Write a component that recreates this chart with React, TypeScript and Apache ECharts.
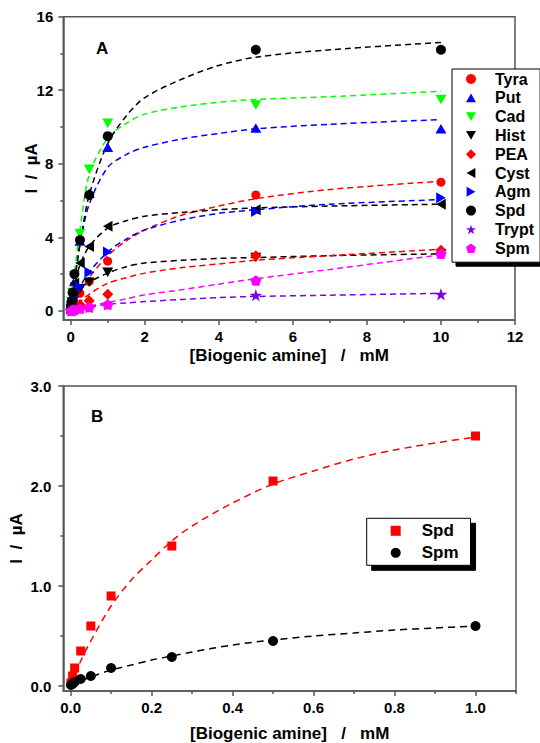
import { useEffect, useRef } from "react";
import * as echarts from "echarts";

const FONT = "'Liberation Sans', Arial, sans-serif";

// ---------- Panel A data ----------
const concA = [0.01, 0.025, 0.05, 0.1, 0.25, 0.5, 1, 5, 10];
const tyraA = [0.05, 0.12, 0.25, 0.45, 0.95, 1.6, 2.7, 6.3, 7.0];
const putA = [0.15, 0.4, 0.8, 1.6, 3.8, 6.4, 8.9, 9.95, 9.9];
const cadA = [0.2, 0.5, 1.0, 1.9, 4.2, 7.7, 10.2, 11.2, 11.5];
const histA = [0.1, 0.25, 0.45, 0.75, 1.2, 1.55, 2.1, 2.9, 3.1];
const peaA = [0.03, 0.08, 0.12, 0.2, 0.35, 0.55, 0.9, 3.0, 3.3];
const cystA = [0.2, 0.5, 0.9, 1.5, 2.6, 3.5, 4.6, 5.5, 5.8];
const agmA = [0.1, 0.25, 0.45, 0.75, 1.3, 2.1, 3.2, 5.4, 6.15];
const spdA = [0.2, 0.5, 1.0, 2.0, 3.85, 6.3, 9.5, 14.2, 14.2];
const tryptA = [0.01, 0.03, 0.05, 0.1, 0.15, 0.2, 0.35, 0.85, 0.9];
const spmA = [0.0, 0.02, 0.04, 0.06, 0.12, 0.2, 0.35, 1.65, 3.1];

// fitted curves
const fitXA = [0, 0.1, 0.25, 0.5, 1, 1.5, 2, 3, 4, 5, 7, 10];
const tyraFit = [0, 0.45, 1.0, 1.8, 3.0, 3.8, 4.4, 5.2, 5.7, 6.1, 6.6, 7.05];
const putFit = [0, 1.6, 3.6, 5.8, 7.8, 8.5, 8.9, 9.35, 9.65, 9.9, 10.15, 10.4];
const cadFit = [0, 2.0, 4.4, 7.4, 9.4, 10.2, 10.7, 11.1, 11.35, 11.5, 11.65, 11.95];
const histFit = [0, 0.6, 1.1, 1.55, 2.05, 2.4, 2.6, 2.75, 2.85, 2.9, 3.0, 3.1];
const peaFit = [0, 0.2, 0.5, 0.9, 1.5, 1.8, 2.05, 2.35, 2.55, 2.75, 3.0, 3.35];
const cystFit = [0, 1.3, 2.5, 3.5, 4.5, 4.9, 5.15, 5.35, 5.5, 5.6, 5.7, 5.8];
const agmFit = [0, 0.6, 1.3, 2.1, 3.2, 3.9, 4.4, 4.95, 5.3, 5.5, 5.8, 6.05];
const spdFit = [0, 1.5, 3.6, 6.3, 9.1, 10.6, 11.6, 12.6, 13.35, 13.8, 14.2, 14.6];
const tryptFit = [0, 0.05, 0.1, 0.2, 0.35, 0.43, 0.5, 0.62, 0.72, 0.78, 0.85, 0.95];
const spmFit = [0, 0.05, 0.12, 0.25, 0.45, 0.65, 0.87, 1.15, 1.45, 1.75, 2.25, 3.05];

const xTicksA = [0, 2, 4, 6, 8, 10, 12];
const xMinorA = [1, 3, 5, 7, 9, 11];
const yTicksA = [0, 4, 8, 12, 16];
const yMinorA = [2, 6, 10, 14];

// ---------- Panel B data ----------
const concB = [0.001, 0.005, 0.01, 0.025, 0.05, 0.1, 0.25, 0.5, 1.0];
const spdB = [0.03, 0.1, 0.18, 0.35, 0.6, 0.9, 1.4, 2.05, 2.5];
const spmB = [0.01, 0.02, 0.04, 0.07, 0.1, 0.18, 0.29, 0.45, 0.6];
const fitXB = [0, 0.025, 0.05, 0.1, 0.15, 0.2, 0.25, 0.3, 0.4, 0.5, 0.6, 0.7, 0.8, 0.9, 1.0];
const spdFitB = [0, 0.25, 0.45, 0.8, 1.06, 1.26, 1.45, 1.6, 1.83, 2.02, 2.15, 2.27, 2.36, 2.43, 2.49];
const spmFitB = [0, 0.05, 0.09, 0.16, 0.21, 0.26, 0.3, 0.34, 0.41, 0.46, 0.5, 0.53, 0.56, 0.58, 0.6];

const xTicksB = [0, 0.2, 0.4, 0.6, 0.8, 1.0];
const xMinorB = [0.1, 0.3, 0.5, 0.7, 0.9, 1.1];
const yTicksB = [0, 1, 2, 3];
const yMinorB = [0.5, 1.5, 2.5];

const STAR = "path://M50,0 L61,35 L98,35 L68,57 L79,91 L50,70 L21,91 L32,57 L2,35 L39,35 Z";
const PENTA = "path://M50,0 L97.6,34.5 L79.4,90.5 L20.6,90.5 L2.4,34.5 Z";
const TRI_UP = "path://M50,0 L100,87 L0,87 Z";
const TRI_DOWN = "path://M0,0 L100,0 L50,87 Z";
const TRI_LEFT = "path://M87,0 L87,100 L0,50 Z";
const TRI_RIGHT = "path://M0,0 L87,50 L0,100 Z";

const AXIS_COLOR = "#555";
const SP = "\u00a0";
const X_NAME = `[Biogenic amine]${SP}${SP}${SP}/${SP}${SP}${SP}mM`;
const Y_NAME = `I${SP}${SP}/${SP}${SP}µA`;

const zip = (xs: number[], ys: number[]) => xs.map((x, i) => [x, ys[i]]);

function mainAxis(
  dim: "x" | "y",
  gridIndex: number,
  min: number,
  max: number,
  ticks: number[],
  fmt: (v: number) => string,
  name: string,
  nameGap: number,
  labelMargin: number
) {
  return {
    type: "value",
    gridIndex,
    position: dim === "x" ? "bottom" : "left",
    min,
    max,
    name,
    nameLocation: "middle",
    nameGap,
    nameMoveOverlap: false,
    nameTextStyle: { fontFamily: FONT, fontWeight: "bold", fontSize: 17, color: "#000" },
    axisLine: { show: true, onZero: false, lineStyle: { color: AXIS_COLOR, width: 1.5 } },
    axisTick: { show: true, inside: false, length: 5, customValues: ticks, lineStyle: { color: AXIS_COLOR, width: 1.5 } },
    axisLabel: {
      show: true,
      customValues: ticks,
      formatter: (v: number) => fmt(v),
      margin: labelMargin,
      fontFamily: FONT,
      fontWeight: "bold",
      fontSize: 15,
      color: "#000",
    },
    splitLine: { show: false },
    minorTick: { show: false },
  };
}

function minorAxis(dim: "x" | "y", gridIndex: number, min: number, max: number, ticks: number[]) {
  return {
    type: "value",
    gridIndex,
    position: dim === "x" ? "bottom" : "left",
    min,
    max,
    axisLine: { show: false, onZero: false },
    axisTick: { show: true, inside: false, length: 3, customValues: ticks, lineStyle: { color: AXIS_COLOR, width: 1.5 } },
    axisLabel: { show: false },
    splitLine: { show: false },
  };
}

type Spec = { name: string; ys: number[]; fit: number[]; color: string; symbol: string; size: number };

const specsA: Spec[] = [
  { name: "Tyra", ys: tyraA, fit: tyraFit, color: "#ff0000", symbol: "circle", size: 9 },
  { name: "Put", ys: putA, fit: putFit, color: "#0000ff", symbol: TRI_UP, size: 11 },
  { name: "Cad", ys: cadA, fit: cadFit, color: "#00ff00", symbol: TRI_DOWN, size: 11 },
  { name: "Hist", ys: histA, fit: histFit, color: "#000000", symbol: TRI_DOWN, size: 11 },
  { name: "PEA", ys: peaA, fit: peaFit, color: "#ff0000", symbol: "diamond", size: 11 },
  { name: "Cyst", ys: cystA, fit: cystFit, color: "#000000", symbol: TRI_LEFT, size: 11 },
  { name: "Agm", ys: agmA, fit: agmFit, color: "#0000ff", symbol: TRI_RIGHT, size: 11 },
  { name: "Spd", ys: spdA, fit: spdFit, color: "#000000", symbol: "circle", size: 10 },
  { name: "Trypt", ys: tryptA, fit: tryptFit, color: "#7a00e6", symbol: STAR, size: 13 },
  { name: "Spm", ys: spmA, fit: spmFit, color: "#ff00ff", symbol: PENTA, size: 11 },
];

function fitLine(xAxisIndex: number, data: number[][], color: string, dash: number[]) {
  return {
    type: "line",
    xAxisIndex,
    yAxisIndex: xAxisIndex,
    data,
    smooth: 0.3,
    showSymbol: false,
    silent: true,
    z: 1,
    lineStyle: { color, width: 1.5, type: dash },
  };
}

function buildOption() {
  const series: any[] = [];
  specsA.forEach((s) => series.push(fitLine(0, zip(fitXA, s.fit), s.color, [6, 4])));
  specsA.forEach((s) => {
    series.push({
      type: "scatter",
      name: s.name,
      xAxisIndex: 0,
      yAxisIndex: 0,
      data: zip(concA, s.ys),
      symbol: s.symbol,
      symbolSize: s.size,
      symbolKeepAspect: true,
      itemStyle: { color: s.color, opacity: 1 },
      z: 3,
    });
  });
  // Panel B
  series.push(fitLine(2, zip(fitXB, spdFitB), "#ff0000", [7, 5]));
  series.push(fitLine(2, zip(fitXB, spmFitB), "#000000", [7, 5]));
  series.push({
    type: "scatter",
    name: "Spd (B)",
    xAxisIndex: 2,
    yAxisIndex: 2,
    data: zip(concB, spdB),
    symbol: "rect",
    symbolSize: 9,
    itemStyle: { color: "#ff0000", opacity: 1 },
    z: 3,
  });
  series.push({
    type: "scatter",
    name: "Spm (B)",
    xAxisIndex: 2,
    yAxisIndex: 2,
    data: zip(concB, spmB),
    symbol: "circle",
    symbolSize: 10,
    itemStyle: { color: "#000000", opacity: 1 },
    z: 3,
  });

  const legendText = (size: number, pad: number) => ({
    fontFamily: FONT,
    fontWeight: "bold",
    fontSize: size,
    color: "#000",
    lineHeight: 16,
    padding: [0, 0, 0, pad],
  });

  return {
    animation: false,
    backgroundColor: "#ffffff",
    grid: [
      { left: 63.3, top: 16.7, width: 451.7, height: 303.3, show: true, borderColor: AXIS_COLOR, borderWidth: 1.5, backgroundColor: "transparent" },
      { left: 63.3, top: 386, width: 452.7, height: 305, show: true, borderColor: AXIS_COLOR, borderWidth: 1.5, backgroundColor: "transparent" },
    ],
    xAxis: [
      mainAxis("x", 0, -0.2, 12, xTicksA, (v) => String(v), X_NAME, 27, 9),
      minorAxis("x", 0, -0.2, 12, xMinorA),
      mainAxis("x", 1, -0.018, 1.1, xTicksB, (v) => v.toFixed(1), X_NAME, 34, 9),
      minorAxis("x", 1, -0.018, 1.1, xMinorB),
    ],
    yAxis: [
      mainAxis("y", 0, -0.5, 16, yTicksA, (v) => String(v), Y_NAME, 23, 10),
      minorAxis("y", 0, -0.5, 16, yMinorA),
      mainAxis("y", 1, -0.05, 3, yTicksB, (v) => v.toFixed(1), Y_NAME, 38, 12),
      minorAxis("y", 1, -0.05, 3, yMinorB),
    ],
    legend: [
      {
        orient: "vertical",
        left: 452,
        top: 69,
        data: specsA.map((s) => s.name),
        itemWidth: 10,
        itemHeight: 10,
        itemGap: 2.8,
        padding: [2, 6, 6, 14],
        backgroundColor: "#ffffff",
        borderColor: "#000",
        borderWidth: 1,
        borderRadius: 0,
        shadowColor: "#000",
        shadowBlur: 0,
        shadowOffsetX: 4,
        shadowOffsetY: 4,
        selectedMode: false,
        textStyle: legendText(16, 14),
      },
      {
        orient: "vertical",
        left: 366.7,
        top: 518.3,
        data: ["Spd (B)", "Spm (B)"],
        formatter: (n: string) => n.replace(" (B)", ""),
        itemWidth: 10,
        itemHeight: 10,
        itemGap: 5,
        padding: [4, 12, 4, 24],
        backgroundColor: "#ffffff",
        borderColor: "#000",
        borderWidth: 1,
        borderRadius: 0,
        shadowColor: "#000",
        shadowBlur: 0,
        shadowOffsetX: 5,
        shadowOffsetY: 5,
        selectedMode: false,
        textStyle: legendText(17, 16),
      },
    ],
    graphic: [
      { type: "text", left: 96, top: 40, style: { text: "A", fontFamily: FONT, fontWeight: "bold", fontSize: 17, fill: "#000" } },
      { type: "text", left: 91, top: 408, style: { text: "B", fontFamily: FONT, fontWeight: "bold", fontSize: 17, fill: "#000" } },
    ],
    series,
  };
}

export default function App() {
  const ref = useRef<HTMLDivElement>(null);
  useEffect(() => {
    if (!ref.current) return;
    const chart = echarts.init(ref.current, null, { renderer: "svg" });
    chart.setOption(buildOption() as any);
    return () => chart.dispose();
  }, []);
  return (
    <div
      ref={ref}
      style={{ position: "fixed", left: 0, top: 0, width: 540, height: 743, background: "#fff" }}
    />
  );
}
